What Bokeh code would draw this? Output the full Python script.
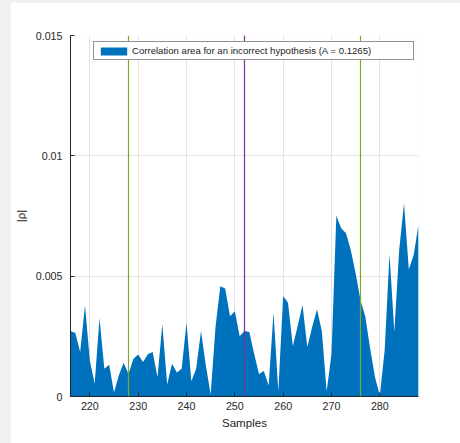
from bokeh.plotting import figure
from bokeh.models import (Range1d, Span, Legend, LegendItem, FixedTicker,
                          CustomJSTickFormatter)
from bokeh.layouts import column
from bokeh.embed import file_html
from bokeh.resources import INLINE

# Absolute correlation |rho| per sample index
samples = list(range(216, 289))
rho = [
    2.72e-3, 2.64e-3, 1.85e-3, 3.79e-3, 1.50e-3, 0.53e-3, 3.26e-3, 1.15e-3, 1.32e-3, 0.17e-3,
    0.88e-3, 1.40e-3, 0.94e-3, 1.56e-3, 1.74e-3, 1.43e-3, 1.76e-3, 1.85e-3, 0.80e-3, 3.00e-3,
    0.50e-3, 1.36e-3, 1.00e-3, 1.15e-3, 3.06e-3, 0.63e-3, 1.15e-3, 2.72e-3, 1.29e-3, 0.08e-3,
    2.89e-3, 4.58e-3, 4.49e-3, 3.33e-3, 3.54e-3, 2.50e-3, 2.72e-3, 2.68e-3, 1.78e-3, 0.94e-3,
    1.06e-3, 0.46e-3, 3.49e-3, 0.22e-3, 4.18e-3, 3.90e-3, 2.10e-3, 2.93e-3, 3.80e-3, 2.06e-3,
    2.89e-3, 3.63e-3, 2.72e-3, 0.22e-3, 1.78e-3, 7.51e-3, 6.99e-3, 6.78e-3, 6.08e-3, 5.11e-3,
    4.00e-3, 3.31e-3, 1.99e-3, 0.80e-3, 0.04e-3, 1.92e-3, 5.92e-3, 2.68e-3, 6.08e-3, 8.03e-3,
    5.28e-3, 5.88e-3, 7.15e-3,
]

window_bounds = [228, 276]   # integration window (green)
center_sample = 252          # window centre (purple)
x_ticks = [220, 230, 240, 250, 260, 270, 280]
y_ticks = [0, 0.005, 0.01, 0.015]
legend_label = "Correlation area for an incorrect hypothesis (A = 0.1265)"

FONT = "Liberation Sans"
INK = "#262626"

p = figure(width=450, height=441, output_backend="svg", toolbar_location=None,
           x_range=Range1d(216, 288), y_range=Range1d(0, 0.015),
           min_border_left=58, min_border_right=42,
           min_border_top=33, min_border_bottom=47,
           margin=(2, 0, 0, 10))
p.background_fill_color = "white"
p.border_fill_color = "white"
p.outline_line_color = None

area = p.varea(x=samples, y1=0, y2=rho, fill_color="#0072BD")

for xb in window_bounds:
    p.add_layout(Span(location=xb, dimension="height",
                      line_color="#77AC30", line_width=1.2))
p.add_layout(Span(location=center_sample, dimension="height",
                  line_color="#7E2F8E", line_width=1.2))

# axes
p.xaxis.ticker = FixedTicker(ticks=x_ticks)
p.yaxis.ticker = FixedTicker(ticks=y_ticks)
p.yaxis.formatter = CustomJSTickFormatter(
    code="return String(Math.round(tick * 1000) / 1000);")
for ax in (p.xaxis, p.yaxis):
    ax.axis_line_color = INK
    ax.axis_line_width = 1
    ax.major_tick_line_color = INK
    ax.major_tick_in = 4
    ax.major_tick_out = 0
    ax.minor_tick_line_color = None
    ax.major_label_text_font = FONT
    ax.major_label_text_font_size = "10.7px"
    ax.major_label_text_color = INK
    ax.axis_label_text_font = FONT
    ax.axis_label_text_font_size = "11.6px"
    ax.axis_label_text_color = INK
    ax.axis_label_text_font_style = "normal"
p.xaxis.major_label_standoff = 5
p.yaxis.major_label_standoff = 8
p.xaxis.axis_label = "Samples"
p.yaxis.axis_label = "|ρ|"
p.xaxis.axis_label_standoff = 3
p.yaxis.axis_label_standoff = 6

p.xgrid.ticker = FixedTicker(ticks=x_ticks)
p.ygrid.ticker = FixedTicker(ticks=y_ticks)
for g in (p.xgrid, p.ygrid):
    g.grid_line_color = "#e3e3e3"
    g.grid_line_width = 1

legend = Legend(items=[LegendItem(label=legend_label, renderers=[area])],
                location=(23, 336), orientation="vertical",
                padding=3, margin=0, spacing=0,
                glyph_width=33, glyph_height=10,
                label_height=10, label_width=278, label_standoff=2,
                label_text_font=FONT, label_text_font_size="9.6px",
                label_text_color="#1a1a1a",
                border_line_color="#262626", border_line_width=1,
                background_fill_color="white", background_fill_alpha=1)
p.add_layout(legend)

page = column(p, styles={"background-color": "#f0f0f0"})

open("out.html", "w").write(file_html(page, INLINE))
